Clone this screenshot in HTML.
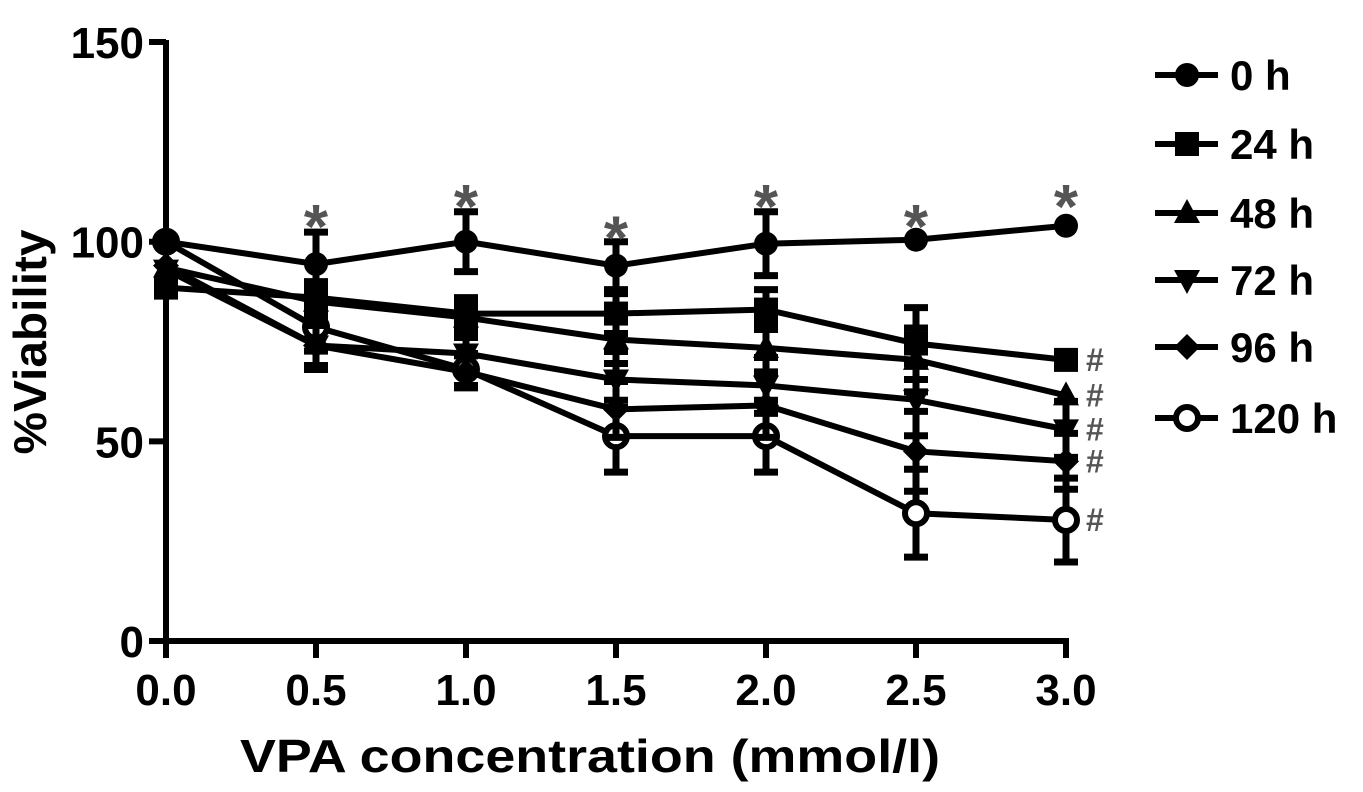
<!DOCTYPE html>
<html><head><meta charset="utf-8"><style>
html,body{margin:0;padding:0;background:#fff;}
svg{display:block;font-family:"Liberation Sans",Arial,sans-serif;font-weight:bold;}
</style></head><body>
<svg id="chart" width="1363" height="792" viewBox="0 0 1363 792" xmlns="http://www.w3.org/2000/svg"></svg>
<script>
const xValues = [0, 0.5, 1.0, 1.5, 2.0, 2.5, 3.0];
const xTicks = ["0.0","0.5","1.0","1.5","2.0","2.5","3.0"];
const yTicks = [0, 50, 100, 150];
const seriesNames = ["0 h","24 h","48 h","72 h","96 h","120 h"];
const markers = ["circle","square","triangle","tridown","diamond","open"];
const v0 = [100, 94.4, 100, 94, 99.5, 100.5, 104];
const v24 = [88.5, 86, 82, 82, 83, 74.5, 70.4];
const v48 = [93.5, 85, 81, 75.5, 73.4, 70.4, 61.5];
const v72 = [93, 74, 72, 65.5, 64, 60.4, 53];
const v96 = [94, 74, 67.4, 58, 59, 47.5, 45];
const v120 = [100, 78.6, 68, 51.3, 51.3, 32, 30.3];
const e0 = [0, 8, 7.5, 6, 8, 0, 0];
const e24 = [0, 4, 4, 5, 5, 9, 0];
const e48 = [0, 4, 4, 6, 6, 8, 0];
const e72 = [0, 5, 4, 7, 7, 9, 7];
const e96 = [0, 6, 4, 7, 8, 10, 7];
const e120 = [0, 6, 4, 9, 9, 11, 10.5];
const starX = [0.5, 1.0, 1.5, 2.0, 2.5, 3.0];
const starY = [108, 113, 105, 113, 108, 113];
const hashVals = [70.4, 61.5, 53, 45, 30.3];

const allV = [v0, v24, v48, v72, v96, v120];
const allE = [e0, e24, e48, e72, e96, e120];
const svg = document.getElementById('chart');
const NS = 'http://www.w3.org/2000/svg';
const X = v => 166 + v * 300;
const Y = v => 641 - v * 3.993;
function mk(tag, attrs, parent) {
  const el = document.createElementNS(NS, tag);
  for (const k in attrs) el.setAttribute(k, attrs[k]);
  (parent || svg).appendChild(el);
  return el;
}
function marker(type, cx, cy, g) {
  let el;
  if (type === 'circle') el = mk('circle', {cx, cy, r: 12, fill: '#000'}, g);
  else if (type === 'open') el = mk('circle', {cx, cy, r: 11, fill: '#fff', stroke: '#000', 'stroke-width': 6}, g);
  else if (type === 'square') el = mk('rect', {x: cx - 12, y: cy - 12, width: 24, height: 24, fill: '#000'}, g);
  else if (type === 'triangle') el = mk('polygon', {points: `${cx},${cy-14} ${cx-13},${cy+10} ${cx+13},${cy+10}`, fill: '#000'}, g);
  else if (type === 'tridown') el = mk('polygon', {points: `${cx},${cy+14} ${cx-13},${cy-10} ${cx+13},${cy-10}`, fill: '#000'}, g);
  else el = mk('polygon', {points: `${cx},${cy-13} ${cx+13},${cy} ${cx},${cy+13} ${cx-13},${cy}`, fill: '#000'}, g);
  return el;
}
const axes = mk('g', {});


mk('line', {x1: 166, y1: 40, x2: 166, y2: 644, stroke: '#000', 'stroke-width': 6}, axes);
mk('line', {x1: 163, y1: 641, x2: 1069, y2: 641, stroke: '#000', 'stroke-width': 6}, axes);
yTicks.forEach(t => {
  mk('line', {x1: 149, y1: Y(t), x2: 166, y2: Y(t), stroke: '#000', 'stroke-width': 6}, axes);
  const tx = mk('text', {x: 144, y: Y(t) + 16, 'text-anchor': 'end', 'font-size': 44}, axes);
  tx.textContent = t;
  
  
});
xValues.forEach((v, i) => {
  mk('line', {x1: X(v), y1: 641, x2: X(v), y2: 658, stroke: '#000', 'stroke-width': 6}, axes);
  const tx = mk('text', {x: X(v), y: 705, 'text-anchor': 'middle', 'font-size': 44}, axes);
  tx.textContent = xTicks[i];
  
  
});
const xt = mk('text', {x: 590, y: 772, 'text-anchor': 'middle', 'font-size': 46, textLength: 700, lengthAdjust: 'spacingAndGlyphs'});
xt.textContent = 'VPA concentration (mmol/l)';


const yt = mk('text', {x: 0, y: 0, 'text-anchor': 'middle', 'font-size': 46, textLength: 225, lengthAdjust: 'spacingAndGlyphs', transform: 'translate(46,342) rotate(-90)'});
yt.textContent = '%Viability';



for (let s = allV.length - 1; s >= 0; s--) {
  const g = mk('g', {});
  
  
  const vals = allV[s], errs = allE[s];
  mk('polyline', {points: xValues.map((x, i) => `${X(x)},${Y(vals[i])}`).join(' '), fill: 'none', stroke: '#000', 'stroke-width': 6}, g);
  xValues.forEach((x, i) => {
    if (errs[i] > 0) {
      const t = Y(vals[i] + errs[i]), b = Y(vals[i] - errs[i]);
      mk('line', {x1: X(x), y1: t, x2: X(x), y2: b, stroke: '#000', 'stroke-width': 7}, g);
      mk('line', {x1: X(x) - 12, y1: t, x2: X(x) + 12, y2: t, stroke: '#000', 'stroke-width': 7}, g);
      mk('line', {x1: X(x) - 12, y1: b, x2: X(x) + 12, y2: b, stroke: '#000', 'stroke-width': 7}, g);
    }
    const m = marker(markers[s], X(x), Y(vals[i]), g);
    
    
  });
}
starX.forEach((x, i) => {
  const t = mk('text', {x: X(x), y: Y(starY[i]) + 38, 'text-anchor': 'middle', 'font-size': 62, fill: '#555'});
  t.textContent = '*';
  
  
});
hashVals.forEach(v => {
  const t = mk('text', {x: 1086, y: Y(v) + 11, 'font-size': 32, fill: '#555'});
  t.textContent = '#';
  
  
});
const legY = [75, 144, 213, 280, 347, 418];
seriesNames.forEach((n, i) => {
  const g = mk('g', {});
  
  
  mk('line', {x1: 1155, y1: legY[i], x2: 1218, y2: legY[i], stroke: '#000', 'stroke-width': 6}, g);
  marker(markers[i], 1187, legY[i], g);
  const t = mk('text', {x: 1230, y: legY[i] + 15, 'font-size': 42}, g);
  t.textContent = n;
});
</script>
</body></html>
